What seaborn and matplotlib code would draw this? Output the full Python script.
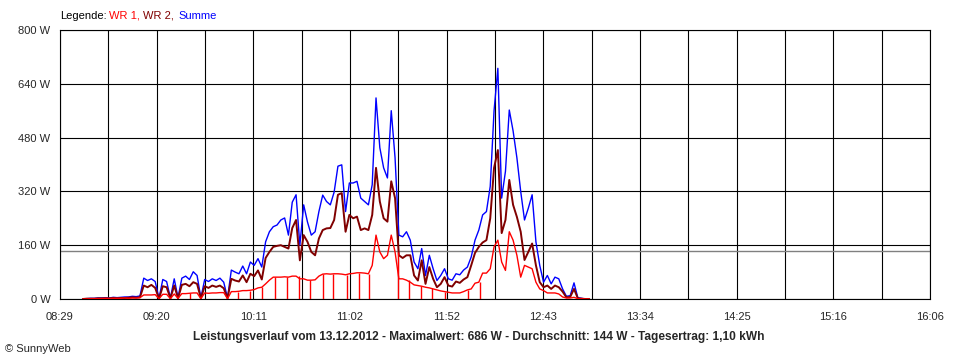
import numpy as np
import pandas as pd
import matplotlib
matplotlib.use("Agg")
import matplotlib.pyplot as plt
import seaborn as sns

# Messzeitpunkte: Minuten nach 08:29, alle 2 Minuten
minutes = np.arange(12, 280, 2)

summe = [0, 1, 2, 2, 3, 3, 4, 3, 5, 4,
         5, 6, 6, 8, 7, 9, 62, 55, 60, 52,
         2, 58, 52, 3, 60, 4, 62, 68, 58, 81,
         70, 3, 58, 52, 60, 55, 62, 50, 3, 86,
         80, 75, 98, 75, 110, 100, 120, 95, 170, 200,
         215, 220, 235, 241, 190, 288, 310, 160, 280, 229,
         190, 200, 260, 309, 290, 280, 318, 395, 399, 260,
         345, 345, 350, 300, 290, 280, 340, 598, 450, 390,
         360, 560, 420, 190, 185, 200, 175, 110, 90, 150,
         70, 130, 90, 55, 70, 90, 60, 56, 75, 72,
         86, 95, 125, 175, 205, 250, 260, 335, 560, 686,
         300, 380, 562, 500, 420, 320, 235, 270, 310, 170,
         100, 50, 70, 45, 65, 60, 30, 8, 10, 48,
         4, 2, 0, 0]

wr2 = [0, 1, 1, 1, 2, 2, 2, 2, 3, 2,
       3, 3, 4, 5, 4, 5, 40, 35, 42, 33,
       1, 38, 35, 2, 40, 2, 42, 45, 38, 50,
       45, 2, 38, 33, 40, 36, 40, 32, 2, 60,
       55, 52, 70, 50, 75, 68, 85, 58, 122, 140,
       155, 158, 160, 155, 150, 211, 235, 115, 190, 170,
       140, 130, 180, 205, 210, 211, 235, 310, 315, 200,
       250, 240, 245, 205, 210, 205, 250, 390, 290, 240,
       230, 350, 300, 130, 122, 130, 130, 70, 55, 115,
       45, 95, 60, 35, 45, 65, 40, 37, 52, 48,
       58, 65, 100, 137, 155, 168, 175, 240, 390, 443,
       196, 235, 354, 280, 244, 200, 116, 140, 165, 100,
       50, 35, 40, 30, 40, 35, 22, 5, 6, 30,
       2, 1, 0, 0]

wr1 = [0, 0, 1, 1, 1, 1, 2, 1, 2, 2,
       2, 3, 2, 3, 3, 4, 12, 12, 12, 13,
       1, 14, 14, 1, 15, 2, 16, 16, 17, 18,
       18, 1, 18, 17, 18, 18, 19, 19, 1, 22,
       22, 23, 25, 25, 26, 28, 33, 35, 45, 56,
       65, 65, 65, 66, 65, 68, 68, 60, 60, 56,
       56, 57, 68, 74, 75, 74, 75, 75, 74, 72,
       75, 76, 78, 78, 77, 75, 100, 190, 140, 120,
       130, 190, 140, 60, 60, 56, 50, 42, 40, 38,
       35, 33, 30, 27, 24, 22, 20, 18, 18, 18,
       22, 27, 30, 47, 50, 77, 77, 90, 155, 175,
       110, 85, 200, 175, 130, 65, 100, 95, 90, 50,
       30, 25, 18, 18, 18, 15, 6, 3, 3, 5,
       1, 1, 0, 0]

# kurze Aussetzer von WR 1 (Minuten nach 08:29)
wr1_dropouts = [68.3, 93.5, 99.6, 106.1, 112.9, 119.2, 125.5, 131.3, 138.2, 143.6,
                150.8, 157.1, 162.3, 177.6, 183.3, 189.6, 195.6, 202.2, 214.3, 220.6]

durchschnitt = 144
time_labels = ["08:29", "09:20", "10:11", "11:02", "11:52",
               "12:43", "13:34", "14:25", "15:16", "16:06"]
y_ticks = [0, 160, 320, 480, 640, 800]
title = ("Leistungsverlauf vom 13.12.2012 - Maximalwert: 686 W - "
         "Durchschnitt: 144 W - Tagesertrag: 1,10 kWh")

df = pd.DataFrame({"min": minutes, "WR 1": wr1, "WR 2": wr2, "Summe": summe})
long = df.melt(id_vars="min", var_name="Reihe", value_name="W")
farben = {"WR 1": "#FF0000", "WR 2": "#800000", "Summe": "#0000FF"}

# Höhe der Aussetzer = letzter Messwert davor
drop_h = [df.loc[df["min"] <= d, "WR 1"].iloc[-1] for d in wr1_dropouts]

sns.set_style("white")
plt.rcParams["font.family"] = ["Liberation Sans", "DejaVu Sans"]
plt.rcParams["font.size"] = 8

fig = plt.figure(figsize=(9.6, 3.6), dpi=100)
ax = fig.add_axes([60 / 960, 61 / 360, 870 / 960, 269 / 360])

ax.axhline(durchschnitt, color="#808080", lw=1.0, zorder=1)

for reihe, lw in [("Summe", 1.0), ("WR 2", 1.4), ("WR 1", 1.0)]:
    sns.lineplot(data=long[long["Reihe"] == reihe], x="min", y="W",
                 color=farben[reihe], lw=lw, estimator=None, ax=ax, zorder=3)
ax.vlines(wr1_dropouts, 0, drop_h, color=farben["WR 1"], lw=1.0, zorder=4)

ax.set_xlim(0, 457)
ax.set_ylim(0, 800)
xt = np.linspace(0, 457, 19)
ax.set_xticks(xt)
ax.set_xticklabels([time_labels[i // 2] if i % 2 == 0 else "" for i in range(19)])
ax.set_yticks(y_ticks)
ax.set_yticklabels([f"{v} W" for v in y_ticks])
ax.grid(True, color="black", lw=0.8, zorder=0)
ax.set_axisbelow(True)
for s in ax.spines.values():
    s.set_color("black")
    s.set_linewidth(0.8)
ax.tick_params(axis="both", length=4, width=0.8, color="black", pad=3, labelsize=8)
ax.tick_params(axis="x", pad=5)
ax.set_xlabel("")
ax.set_ylabel("")

# Legende oben links
ly = (360 - 16) / 360
fig.text(60 / 960, ly, "Legende:", color="black", va="center", fontsize=8)
fig.text(109 / 960, ly, "WR 1,", color=farben["WR 1"], va="center", fontsize=8)
fig.text(143 / 960, ly, "WR 2,", color=farben["WR 2"], va="center", fontsize=8)
fig.text(178 / 960, ly, "Summe", color=farben["Summe"], va="center", fontsize=8)

fig.text(479 / 960, (360 - 337) / 360, title, ha="center", va="center",
         fontweight="bold", fontsize=8.6)
fig.text(5 / 960, (360 - 349) / 360, "© SunnyWeb", va="center", fontsize=8)

fig.savefig("out.png", dpi=100)
